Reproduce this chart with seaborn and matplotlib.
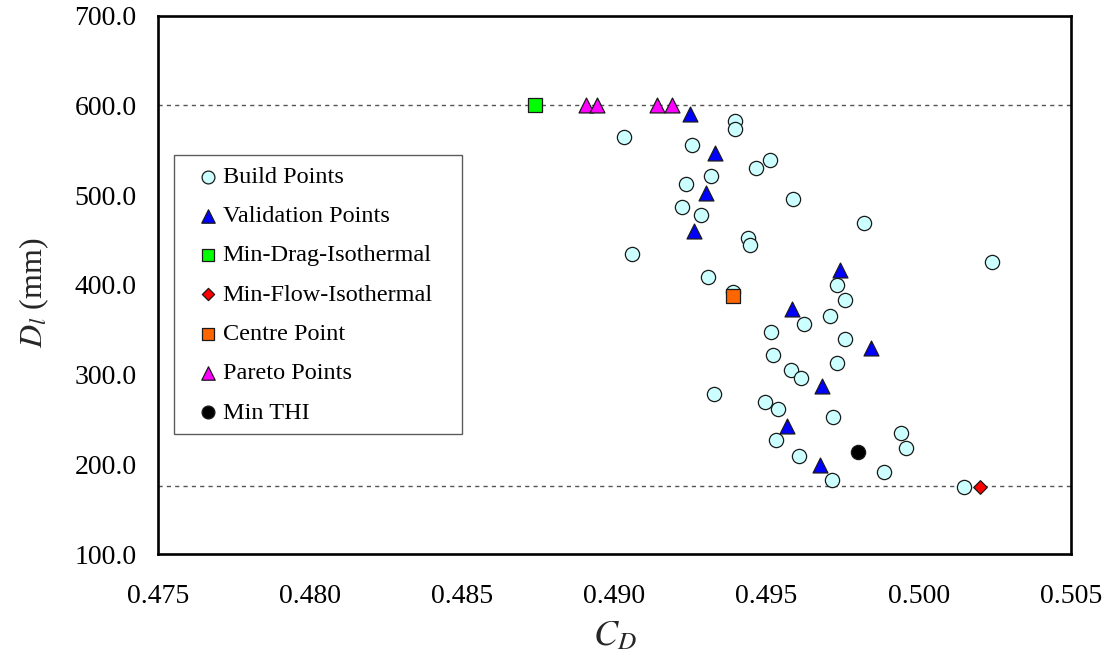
import matplotlib
matplotlib.use("Agg")
import matplotlib.pyplot as plt
import seaborn as sns
import pandas as pd

# ---------------- data ----------------
build_cd = [0.49395, 0.49395, 0.49030, 0.49255, 0.49466, 0.49512, 0.49316, 0.49236,
            0.49586, 0.49222, 0.49283, 0.49820, 0.49440, 0.49444, 0.49057, 0.49309,
            0.49391, 0.50242, 0.49733, 0.49759, 0.49622, 0.49710, 0.49513, 0.49757,
            0.49520, 0.49732, 0.49580, 0.49612, 0.49327, 0.49496, 0.49536, 0.49717,
            0.49941, 0.49530, 0.49959, 0.49607, 0.49885, 0.49714, 0.50150]
build_d = [583, 574, 565, 556, 530, 539, 521, 513,
           496, 487, 478, 469, 452, 444, 435, 409,
           392, 426, 400, 383, 357, 366, 348, 340,
           322, 313, 305, 296, 279, 270, 262, 253,
           235, 227, 218, 210, 192, 183, 175]

valid_cd = [0.49249, 0.49331, 0.49301, 0.49262, 0.49742, 0.49582, 0.49844, 0.49681, 0.49566, 0.49677]
valid_d = [590, 547, 503, 460, 417, 373, 330, 287, 243, 200]

min_drag_cd = [0.48739]
min_drag_d = [600]

min_flow_cd = [0.50203]
min_flow_d = [175]

centre_cd = [0.49391]
centre_d = [388]

pareto_cd = [0.48907, 0.48943, 0.49140, 0.49189]
pareto_d = [600, 600, 600, 600]

min_thi_cd = [0.49801]
min_thi_d = [214]

bounds = [600, 176]

x_ticks = [0.475, 0.480, 0.485, 0.490, 0.495, 0.500, 0.505]
y_ticks = [100, 200, 300, 400, 500, 600, 700]

# ---------------- style ----------------
sns.set_style("white")
plt.rcParams['font.family'] = ['Liberation Serif', 'DejaVu Serif']
plt.rcParams['mathtext.fontset'] = 'stix'

fig = plt.figure(figsize=(11.06, 6.62), dpi=100)
ax = fig.add_axes([0.1431, 0.1627, 0.8250, 0.8136])

for yb in bounds:
    ax.axhline(yb, color='#555555', lw=1.0, ls=(0, (3, 3)), zorder=1)

edge = '#1a1a1a'
groups = [
    (build_cd, build_d, 'Build Points', 'o', '#CCFFFF', 105),
    (valid_cd, valid_d, 'Validation Points', '^', '#0000FF', 115),
    (min_drag_cd, min_drag_d, 'Min-Drag-Isothermal', 's', '#00FF00', 100),
    (min_flow_cd, min_flow_d, 'Min-Flow-Isothermal', 'D', '#FF0000', 48),
    (centre_cd, centre_d, 'Centre Point', 's', '#FF6600', 100),
    (pareto_cd, pareto_d, 'Pareto Points', '^', '#FF00FF', 115),
    (min_thi_cd, min_thi_d, 'Min THI', 'o', '#000000', 105),
]
for i, (xs, ys, lab, mk, col, s) in enumerate(groups):
    df = pd.DataFrame({'CD': xs, 'D': ys})
    sns.scatterplot(data=df, x='CD', y='D', ax=ax, marker=mk, color=col, s=s,
                    edgecolor=edge, linewidth=0.9, label=lab, zorder=3 + i)

ax.set_xlim(0.475, 0.505)
ax.set_ylim(100, 700)
ax.set_xticks(x_ticks)
ax.set_xticklabels([f"{v:.3f}" for v in x_ticks])
ax.set_yticks(y_ticks)
ax.set_yticklabels([f"{v:.1f}" for v in y_ticks])
ax.tick_params(axis='both', direction='out', length=6.5, width=1.0, color='black',
               labelsize=20, labelcolor='black')
ax.tick_params(axis='y', pad=9)
ax.tick_params(axis='x', pad=15)
for sp in ax.spines.values():
    sp.set_visible(True)
    sp.set_color('black')
    sp.set_linewidth(1.9)

ax.set_xlabel(r'$C_D$', fontsize=26, labelpad=8)
ax.set_ylabel(r'$D_l$ (mm)', fontsize=23)
ax.yaxis.set_label_coords(-0.118, 0.485)

leg = ax.legend(loc='upper left', bbox_to_anchor=(0.0172, 0.2308, 0.3157, 0.5106),
                mode='expand', borderaxespad=0,
                fontsize=17.5, frameon=True, fancybox=False, edgecolor='#333333',
                handlelength=1.9, handletextpad=-0.35, labelspacing=0.71,
                borderpad=0.45, markerscale=0.9)
leg.get_frame().set_linewidth(1.0)
for t in leg.get_texts():
    t.set_color('black')

fig.savefig('out.png', dpi=100)
